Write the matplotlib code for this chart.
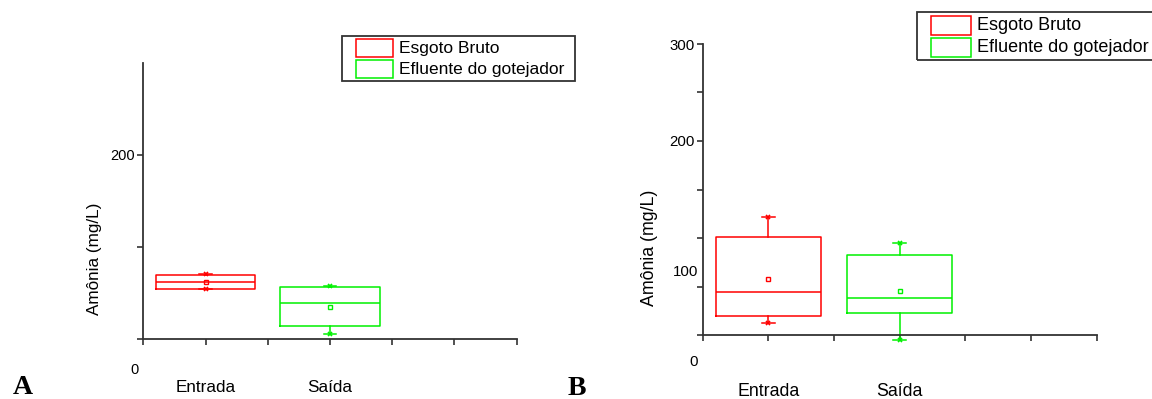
import matplotlib
matplotlib.use("Agg")
import matplotlib.pyplot as plt
from matplotlib.patches import Rectangle

plt.rcParams['font.family'] = ['Liberation Sans', 'DejaVu Sans']

W, H = 1152, 399

categories = ["Entrada", "Saída"]
cat_pos = [1, 3]
series_names = ["Esgoto Bruto", "Efluente do gotejador"]
colors = ["#ff0000", "#00f000"]
ylabel = "Amônia (mg/L)"

# Panel A stats (Entrada, Saída)
A_q1 = [54.7, 14.5]
A_med = [61.6, 38.8]
A_q3 = [69.6, 56.2]
A_lo = [54.3, 5.8]
A_hi = [71.0, 57.9]
A_mean = [62.0, 35.1]

# Panel B stats (Entrada, Saída)
B_q1 = [20.0, 22.4]
B_med = [44.5, 38.6]
B_q3 = [101.0, 82.0]
B_lo = [12.1, -5.5]
B_hi = [121.5, 94.5]
B_mean = [57.6, 45.2]

A_yticks = [0, 100, 200]
A_yticklabels = ["", "", "200"]
B_yticks = [0, 50, 100, 150, 200, 250, 300]
B_yticklabels = ["", "", "", "", "200", "", "300"]

fig = plt.figure(figsize=(W / 100, H / 100), dpi=100)


def fx(x):
    return x / W


def fy(y):
    return 1 - y / H


spine_col = "#333333"


def make_panel(rect, q1, med, q3, lo, hi, mean, yticks, yticklabels,
               misplaced, xlab_y, ylab_xy, fs_tick, fs_lab):
    ax = fig.add_axes(rect)
    for i in range(len(categories)):
        stats = [dict(med=med[i], q1=q1[i], q3=q3[i], whislo=lo[i],
                      whishi=hi[i], mean=mean[i], fliers=[])]
        c = colors[i]
        arts = ax.bxp(stats, positions=[cat_pos[i]], widths=1.6,
                      showmeans=True, showfliers=False, capwidths=0.2,
                      boxprops=dict(color=c, lw=1.1),
                      medianprops=dict(color=c, lw=1.1),
                      whiskerprops=dict(color=c, lw=1.1),
                      capprops=dict(color=c, lw=1.1),
                      meanprops=dict(marker='s', markerfacecolor='none',
                                     markeredgecolor=c, markersize=3.5,
                                     markeredgewidth=1.0))
        for k in arts.values():
            for a in k:
                a.set_clip_on(False)
        ax.plot([cat_pos[i], cat_pos[i]], [lo[i], hi[i]], linestyle='none',
                marker='x', color=c, markersize=3.2, mew=1.2, clip_on=False)
    ax.set_xlim(0, 6)
    ax.set_ylim(0, 300)
    ax.spines['top'].set_visible(False)
    ax.spines['right'].set_visible(False)
    for s in ['left', 'bottom']:
        ax.spines[s].set_color(spine_col)
        ax.spines[s].set_linewidth(1.3)
    ax.set_xticks(range(0, 7))
    ax.set_xticklabels([""] * 7)
    ax.set_yticks(yticks)
    ax.set_yticklabels(yticklabels, fontsize=fs_tick)
    ax.tick_params(axis='both', direction='out', length=4, width=1.2,
                   color=spine_col, pad=2)
    for val, lab in misplaced:
        ax.text(-0.012, val, lab, transform=ax.get_yaxis_transform(),
                ha='right', va='center', fontsize=fs_tick, clip_on=False)
    for p, cname in zip(cat_pos, categories):
        ax.text(p, xlab_y, cname, transform=ax.get_xaxis_transform(),
                ha='center', va='center', fontsize=fs_lab)
    ax.set_ylabel(ylabel, fontsize=fs_lab)
    ax.yaxis.label.set_va('center')
    ax.yaxis.set_label_coords(*ylab_xy)
    return ax


# Panel A
axA = make_panel([fx(143.3), fy(339), fx(516.7 - 143.3), (339 - 63) / H],
                 A_q1, A_med, A_q3, A_lo, A_hi, A_mean,
                 A_yticks, A_yticklabels,
                 misplaced=[(-34, "0")],
                 xlab_y=-(388 - 339) / 276,
                 ylab_xy=((95 - 143.3) / 373.4, (339 - 259) / 276),
                 fs_tick=10.5, fs_lab=12.3)

# Panel B
axB = make_panel([fx(702.7), fy(335), fx(1096.7 - 702.7), (335 - 44) / H],
                 B_q1, B_med, B_q3, B_lo, B_hi, B_mean,
                 B_yticks, B_yticklabels,
                 misplaced=[(65.2, "100"), (-28, "0")],
                 xlab_y=-(392 - 335) / 291,
                 ylab_xy=((650 - 702.7) / 394, (335 - 248) / 291),
                 fs_tick=10.8, fs_lab=12.8)


def legend_box(x0, y0, x1, y1, px0, px1, rows, tx, fs):
    fig.patches.append(Rectangle((fx(x0), fy(y1)), fx(x1 - x0), (y1 - y0) / H,
                                 transform=fig.transFigure, fill=False,
                                 edgecolor=spine_col, lw=1.3))
    for (ya, yb), c, name in zip(rows, colors, series_names):
        fig.patches.append(Rectangle((fx(px0), fy(yb)), fx(px1 - px0), (yb - ya) / H,
                                     transform=fig.transFigure, fill=False,
                                     edgecolor=c, lw=1.1))
        fig.text(fx(tx), fy((ya + yb) / 2), name, ha='left', va='center',
                 fontsize=fs)


legend_box(342.3, 36, 575, 81, 356, 393.3, [(39, 57.3), (60, 78.3)], 399.3, 12.5)
legend_box(916.7, 12.3, 1160, 60, 931, 971, [(15.7, 35), (38.3, 57.3)], 977.3, 13)

fig.text(fx(13), fy(394), "A", fontsize=20, fontweight='bold',
         family='Liberation Serif', ha='left', va='baseline')
fig.text(fx(568), fy(395), "B", fontsize=20, fontweight='bold',
         family='Liberation Serif', ha='left', va='baseline')

fig.savefig("out.png", dpi=100)
